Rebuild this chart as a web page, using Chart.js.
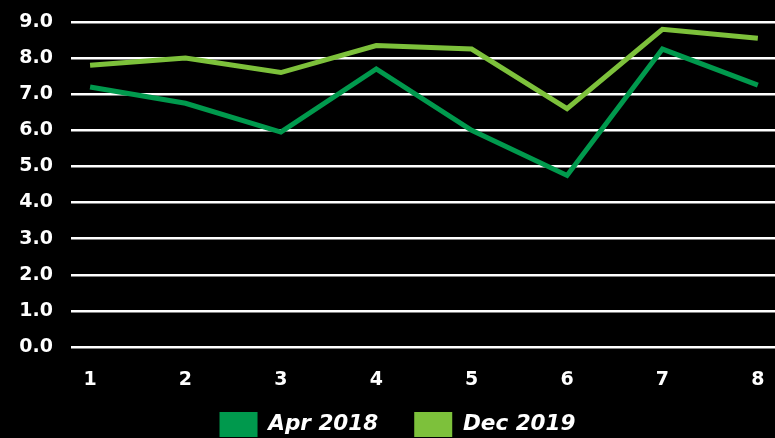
<!DOCTYPE html>
<html>
<head>
<meta charset="utf-8">
<script src="https://cdn.jsdelivr.net/npm/chart.js@4/dist/chart.umd.min.js"></script>
<style>
  html, body { margin: 0; padding: 0; background: #000; }
  #wrap { width: 775px; height: 438px; }
</style>
</head>
<body>
<div id="wrap"><canvas id="c" width="775" height="438"></canvas></div>
<script>
const categories = [1, 2, 3, 4, 5, 6, 7, 8];
const apr2018 = [7.2, 6.75, 5.95, 7.7, 6.0, 4.75, 8.25, 7.25];
const dec2019 = [7.8, 8.0, 7.6, 8.35, 8.25, 6.6, 8.8, 8.55];
const yTicks = [0, 1, 2, 3, 4, 5, 6, 7, 8, 9];

const toPts = arr => arr.map((v, i) => ({ x: categories[i], y: v }));
const tickFont = { family: 'DejaVu Sans', size: 19, weight: 'bold' };

const legendHeightFix = {
  id: 'legendHeightFix',
  beforeUpdate(chart) {
    const lg = chart.legend;
    if (lg && !lg._patched) {
      const orig = lg.fit.bind(lg);
      lg.fit = function () { orig(); this.height = 62; };
      lg._patched = true;
    }
  }
};

new Chart(document.getElementById('c'), {
  type: 'line',
  plugins: [legendHeightFix],
  data: {
    datasets: [
      { label: 'Apr 2018', data: toPts(apr2018), borderColor: '#00994d', backgroundColor: '#00994d',
        borderWidth: 5, pointRadius: 0, tension: 0, fill: false },
      { label: 'Dec 2019', data: toPts(dec2019), borderColor: '#7dc13b', backgroundColor: '#7dc13b',
        borderWidth: 5, pointRadius: 0, tension: 0, fill: false }
    ]
  },
  options: {
    responsive: false,
    animation: false,
    layout: { padding: { top: 22, right: 0, left: 20, bottom: 0 } },
    plugins: {
      tooltip: { enabled: false },
      legend: {
        position: 'bottom',
        labels: {
          color: '#fff',
          boxWidth: 38,
          boxHeight: 25,
          padding: 36,
          font: { family: 'DejaVu Sans', size: 21.5, weight: 'bold', style: 'italic' },
          generateLabels: chart => Chart.defaults.plugins.legend.labels.generateLabels(chart)
            .map(l => Object.assign(l, { lineWidth: 0, strokeStyle: 'rgba(0,0,0,0)' }))
        }
      }
    },
    scales: {
      x: {
        type: 'linear',
        min: 0.8,
        max: 8.18,
        afterBuildTicks: s => { s.ticks = categories.map(v => ({ value: v })); },
        afterFit: s => {
          s.height = 29; s.paddingLeft = 0; s.paddingRight = 0;
          s._computeLabelArea = () => undefined;
        },
        grid: { display: false, drawTicks: false },
        border: { display: false },
        ticks: { color: '#fff', padding: 22, font: tickFont, callback: v => String(v), maxRotation: 0, autoSkip: false },
      },
      y: {
        min: 0,
        max: 9,
        afterBuildTicks: s => { s.ticks = yTicks.map(v => ({ value: v })); },
        afterFit: s => { s.width = 51; s.paddingTop = 0; s.paddingBottom = 0; },
        grid: { color: '#fff', lineWidth: 2.5, drawTicks: false },
        border: { display: false },
        ticks: { color: '#fff', padding: 18, font: tickFont, callback: v => v.toFixed(1) }
      }
    }
  }
});
</script>
</body>
</html>
